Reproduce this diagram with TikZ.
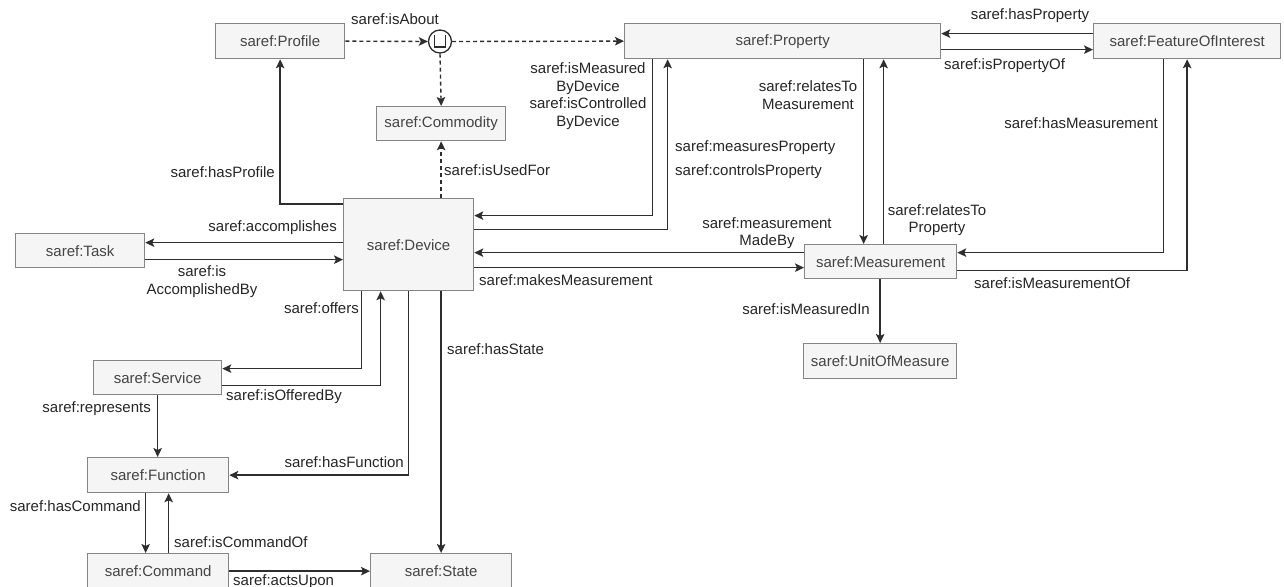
\documentclass[tikz,border=0pt]{standalone}
\usepackage{fontspec}
\setmainfont{Liberation Sans}
\usetikzlibrary{arrows.meta}

\definecolor{boxfill}{HTML}{F5F5F5}
\definecolor{boxline}{HTML}{858585}
\definecolor{boxtext}{HTML}{444444}
\definecolor{edgeline}{HTML}{2E2E2E}
\definecolor{labeltext}{HTML}{262626}

\tikzset{
  cls/.style={draw=boxline, fill=boxfill, line width=1.3pt, text=boxtext,
    anchor=north west, inner sep=0pt, font=\fontsize{15}{17.5}\selectfont},
  rel/.style={draw=edgeline, line width=1.4pt,
    -{Stealth[length=9pt,width=8.5pt,inset=2pt]}},
  opt/.style={rel, dash pattern=on 4pt off 3pt},
  lbl/.style={text=labeltext, inner sep=0pt, align=center,
    font=\fontsize{15}{17.5}\selectfont},
}

\begin{document}
\begin{tikzpicture}[x=1pt, y=-1pt]
\useasboundingbox[fill=white] (0,0) rectangle (1284,586);

% ---- classes ----
\node[cls, minimum width=129pt, minimum height=35pt] (prof) at (215,23) {saref:Profile};
\node[cls, minimum width=129pt, minimum height=34pt] (comm) at (376,106) {saref:Commodity};
\node[cls, minimum width=316pt, minimum height=35pt] (prop) at (624,23) {saref:Property};
\node[cls, minimum width=187pt, minimum height=35pt] (foi) at (1093,23) {saref:FeatureOfInterest};
\node[cls, minimum width=130pt, minimum height=92pt] (dev) at (343,198) {saref:Device};
\node[cls, minimum width=129pt, minimum height=34pt] (task) at (15,233) {saref:Task};
\node[cls, minimum width=128pt, minimum height=34pt] (serv) at (93,360) {saref:Service};
\node[cls, minimum width=141pt, minimum height=35pt] (func) at (87,457) {saref:Function};
\node[cls, minimum width=141pt, minimum height=35pt] (cmd) at (87,553) {saref:Command};
\node[cls, minimum width=141pt, minimum height=35pt] (state) at (370,553) {saref:State};
\node[cls, minimum width=152pt, minimum height=34pt] (meas) at (804,244) {saref:Measurement};
\node[cls, minimum width=153pt, minimum height=35pt] (uom) at (803,343) {saref:UnitOfMeasure};

% ---- union operator ----
\node[draw=edgeline, line width=1.3pt, fill=white, circle, minimum size=23pt, inner sep=0pt] (union) at (440,41.5) {};
\draw[edgeline, line width=1.3pt] ([shift={(-5.5,-6)}]union.center) -- ++(0,11.5) -- ++(11,0) -- ++(0,-11.5);

% ---- dashed relations ----
\draw[opt] (prof.east) -- (union.west);
\draw[opt] (union.east) -- (prop.west);
\draw[opt] (union.south) -- (comm.north);
\draw[opt] (comm.south |- dev.north) -- (comm.south);

% ---- device relations ----
\draw[rel] ([yshift=-6pt]dev.north west) -| (prof.south);
\draw[rel] ([yshift=2pt]dev.west) -- ([yshift=8pt]task.east);
\draw[rel] ([yshift=-9pt]task.east) -- ([yshift=-15pt]dev.west);
\draw[rel] ([xshift=-47pt]dev.south) |- ([yshift=9pt]serv.east);
\draw[rel] ([yshift=-8pt]serv.east) -| ([xshift=-28pt]dev.south);
\draw[rel] (dev.south) |- (func.east);
\draw[rel] (state.north |- dev.south) -- (state.north);
\draw[rel] (serv.south) -- (serv.south |- func.north);
\draw[rel] ([xshift=-12.5pt]func.south) -- ([xshift=-12.5pt]cmd.north);
\draw[rel] ([xshift=10.5pt]cmd.north) -- ([xshift=10.5pt]func.south);
\draw[rel] (cmd.east) -- (state.west);

% ---- property / measurement relations ----
\draw[rel] ([yshift=15pt]dev.east) -| ([xshift=-115pt]prop.south);
\draw[rel] ([xshift=-130pt]prop.south) |- ([yshift=29pt]dev.east);
\draw[rel] ([xshift=81pt]prop.south) -- ([xshift=-17pt]meas.north);
\draw[rel] ([xshift=3pt]meas.north) -- ([xshift=101pt]prop.south);
\draw[rel] ([yshift=9pt]meas.west) -- ([yshift=-8pt]dev.east);
\draw[rel] ([yshift=-23pt]dev.east) -- ([yshift=-6pt]meas.west);
\draw[rel] ([yshift=7.5pt]foi.west) -- ([yshift=7.5pt]prop.east);
\draw[rel] ([yshift=-8.5pt]prop.east) -- ([yshift=-8.5pt]foi.west);
\draw[rel] ([xshift=-23.5pt]foi.south) |- ([yshift=9pt]meas.east);
\draw[rel] ([yshift=-9pt]meas.east) -| (foi.south);
\draw[rel] (uom.north |- meas.south) -- (uom.north);

% ---- relation labels ----
\node[lbl] (l-about) at (395,19) {saref:isAbout};
\node[lbl, anchor=west] (l-used) at (444,170) {saref:isUsedFor};
\node[lbl, anchor=east] (l-prof) at (275,172) {saref:hasProfile};
\node[lbl, anchor=east] (l-acc) at (337,228) {saref:accomplishes};
\node[lbl] (l-accby) at (202,281.5) {saref:is\\AccomplishedBy};
\node[lbl, anchor=east] (l-offers) at (359,308) {saref:offers};
\node[lbl, anchor=west] (l-offby) at (226,397) {saref:isOfferedBy};
\node[lbl, anchor=east] (l-func) at (404,462) {saref:hasFunction};
\node[lbl, anchor=west] (l-state) at (447,349) {saref:hasState};
\node[lbl, anchor=east] (l-repr) at (151,409) {saref:represents};
\node[lbl, anchor=east] (l-hcmd) at (141,506) {saref:hasCommand};
\node[lbl, anchor=west] (l-cmdof) at (174,542) {saref:isCommandOf};
\node[lbl, anchor=west] (l-acts) at (233,582) {saref:actsUpon};
\node[lbl, anchor=west] (l-meas) at (675,148) {saref:measuresProperty};
\node[lbl, anchor=west] (l-ctrl) at (675,172) {saref:controlsProperty};
\node[lbl] (l-bydev) at (588,96) {saref:isMeasured\\ByDevice\\saref:isControlled\\ByDevice};
\node[lbl] (l-madeby) at (767,233) {saref:measurement\\MadeBy};
\node[lbl, anchor=west] (l-makes) at (479,280) {saref:makesMeasurement};
\node[lbl] (l-rtm) at (808,95) {saref:relatesTo\\Measurement};
\node[lbl] (l-rtp) at (937,220) {saref:relatesTo\\Property};
\node[lbl] (l-hasprop) at (1030,16) {saref:hasProperty};
\node[lbl, anchor=west] (l-propof) at (944,66) {saref:isPropertyOf};
\node[lbl, anchor=east] (l-hasmeas) at (1158,123) {saref:hasMeasurement};
\node[lbl, anchor=west] (l-measof) at (974,283) {saref:isMeasurementOf};
\node[lbl, anchor=east] (l-unit) at (870,309) {saref:isMeasuredIn};
\end{tikzpicture}
\end{document}
